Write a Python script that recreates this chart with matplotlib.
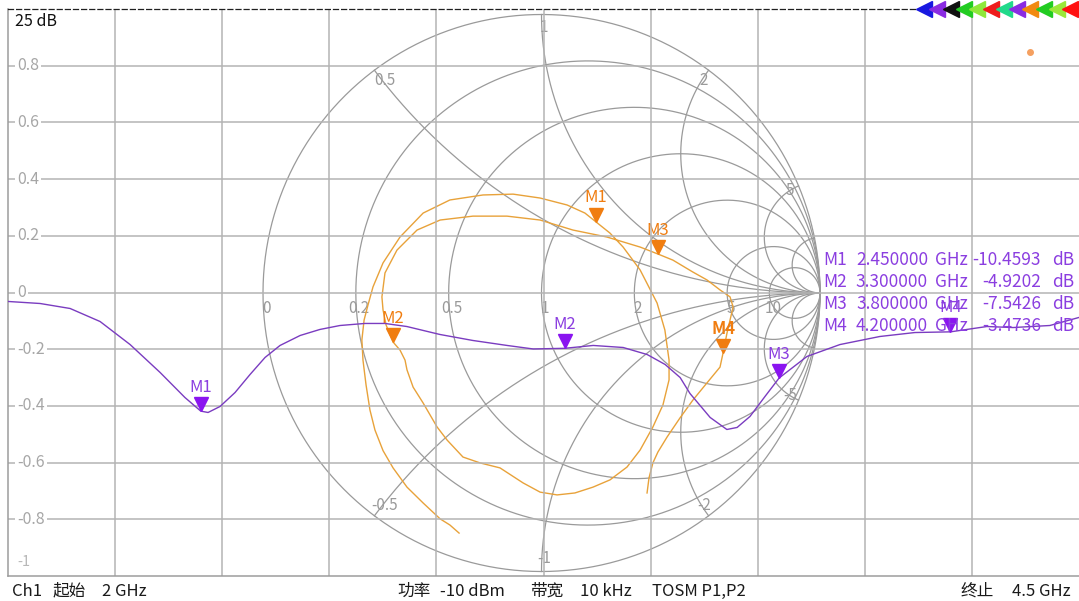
import numpy as np
import matplotlib
matplotlib.use('Agg')
import matplotlib.pyplot as plt
from matplotlib import transforms

plt.rcParams['font.family'] = ['Noto Sans CJK SC', 'DejaVu Sans']

W, H = 1079, 601

# ---------------- data ----------------
# rectangular trace (log magnitude), frequency in GHz, value in dB (25 dB / unit)
freq_ghz = [2.000, 2.075, 2.145, 2.215, 2.285, 2.355, 2.413, 2.450, 2.467, 2.495,
            2.530, 2.565, 2.600, 2.635, 2.682, 2.728, 2.775, 2.833, 2.880, 2.931,
            3.008, 3.085, 3.165, 3.226, 3.300, 3.366, 3.436, 3.492, 3.534, 3.569,
            3.592, 3.639, 3.678, 3.702, 3.732, 3.767, 3.800, 3.865, 3.942, 4.035,
            4.117, 4.200, 4.285, 4.346, 4.432, 4.500]
mag_db = [-0.79, -0.97, -1.41, -2.56, -4.59, -7.05, -9.26, -10.46, -10.58, -10.05,
          -8.82, -7.23, -5.73, -4.67, -3.79, -3.26, -2.91, -2.73, -2.73, -3.00,
          -3.70, -4.23, -4.67, -4.98, -4.92, -4.67, -4.85, -5.47, -6.35, -7.50,
          -8.91, -11.02, -12.08, -11.90, -10.93, -9.17, -7.54, -5.64, -4.59, -3.88,
          -3.53, -3.47, -3.00, -3.09, -2.91, -2.20]

marker_names = ['M1', 'M2', 'M3', 'M4']
marker_freq = [2.45, 3.30, 3.80, 4.20]
marker_db = [-10.4593, -4.9202, -7.5426, -3.4736]

# Smith chart trace (reflection coefficient)
gamma_re = [-0.296, -0.329, -0.364, -0.425, -0.483, -0.533, -0.569, -0.598, -0.616, -0.630,
            -0.641, -0.645, -0.637, -0.623, -0.605, -0.569, -0.508, -0.425, -0.329, -0.210,
            -0.102, -0.005, 0.092, 0.156, 0.196, 0.246, 0.293, 0.354, 0.415, 0.443,
            0.458, 0.458, 0.436, 0.400, 0.354, 0.307, 0.246, 0.185, 0.120, 0.056,
            -0.005, -0.066, -0.149, -0.221, -0.282, -0.339, -0.375, -0.425, -0.461, -0.483,
            -0.490, -0.508, -0.533, -0.558, -0.569, -0.573, -0.562, -0.519, -0.447, -0.364,
            -0.246, -0.124, -0.005, 0.113, 0.235, 0.354, 0.418, 0.472, 0.544, 0.594,
            0.641, 0.677, 0.688, 0.677, 0.666, 0.652, 0.641, 0.594, 0.544, 0.497,
            0.451, 0.418, 0.400, 0.386, 0.379]
gamma_im = [-0.862, -0.833, -0.811, -0.754, -0.697, -0.628, -0.566, -0.492, -0.420, -0.330,
            -0.241, -0.169, -0.097, -0.043, 0.022, 0.108, 0.201, 0.287, 0.334, 0.352,
            0.355, 0.341, 0.316, 0.287, 0.255, 0.215, 0.165, 0.083, -0.036, -0.133,
            -0.241, -0.312, -0.402, -0.481, -0.564, -0.625, -0.671, -0.697, -0.718, -0.725,
            -0.715, -0.682, -0.628, -0.610, -0.589, -0.528, -0.481, -0.395, -0.338, -0.276,
            -0.241, -0.205, -0.176, -0.115, -0.061, -0.014, 0.072, 0.154, 0.226, 0.262,
            0.276, 0.276, 0.262, 0.226, 0.201, 0.165, 0.140, 0.118, 0.075, 0.047,
            0.011, -0.014, -0.050, -0.097, -0.144, -0.215, -0.266, -0.323, -0.384, -0.449,
            -0.517, -0.571, -0.610, -0.664, -0.718]
smith_marker_re = [0.196, -0.533, 0.418, 0.652]
smith_marker_im = [0.255, -0.176, 0.140, -0.215]

y_tick_vals = [0.8, 0.6, 0.4, 0.2, 0.0, -0.2, -0.4, -0.6, -0.8, -1.0]
y_tick_labels = ['0.8', '0.6', '0.4', '0.2', '0', '-0.2', '-0.4', '-0.6', '-0.8', '-1']
db_per_unit = 25

r_circles = [0.2, 0.5, 1, 2, 5, 10]
r_labels = ['0', '0.2', '0.5', '1', '2', '5', '10']
x_arcs = [0.5, 1, 2, 5, 10]
x_labels = ['0.5', '1', '2', '5']

bottom_left = [('Ch1', 12), ('起始', 53), ('2 GHz', 102)]
bottom_mid = [('功率', 397), ('-10 dBm', 440), ('带宽', 530), ('10 kHz', 580), ('TOSM P1,P2', 652)]
bottom_right = [('终止', 960)]
stop_text = '4.5 GHz'

tri_colors = ['#1818e0', '#8a2be2', '#101010', '#22cc22', '#8fe83a', '#ee1c1c',
              '#22d98a', '#8a2be2', '#f28a10', '#22cc22', '#9be83a', '#ff1010']

# ---------------- styles ----------------
PURPLE_LINE = '#7a3cc0'
PURPLE_MK = '#8a14f0'
PURPLE_TXT = '#8b3ee0'
ORANGE_LINE = '#e8a23a'
ORANGE_MK = '#f07d10'
GRID = '#b4b4b4'
SGRID = '#9a9a9a'


def fx(px):
    return px / W


def fy(py):
    return 1 - py / H


fig = plt.figure(figsize=(W / 100, H / 100), dpi=100, facecolor='white')

# Smith chart axes (square, under the rectangular plot)
cx, cy, R = 541.5, 293.0, 278.5
ax_s = fig.add_axes([fx(cx - R), fy(cy + R), 2 * R / W, 2 * R / H], zorder=1)
ax_s.set_xlim(-1, 1)
ax_s.set_ylim(-1, 1)
ax_s.axis('off')
ax_s.patch.set_alpha(0)

t = np.linspace(-np.pi / 2 * 0.9995, np.pi / 2 * 0.9995, 800)
# outer circle
z = 0 + 1j * np.tan(t)
g = (z - 1) / (z + 1)
ax_s.plot(g.real, g.imag, color=SGRID, lw=0.9, clip_on=False)
for r in r_circles:
    z = r + 1j * np.tan(t)
    g = (z - 1) / (z + 1)
    ax_s.plot(g.real, g.imag, color=SGRID, lw=0.9, clip_on=False)
tr = np.linspace(0, np.pi / 2 * 0.9995, 600)
for xv in x_arcs:
    for s in (1, -1):
        z = np.tan(tr) + 1j * s * xv
        g = (z - 1) / (z + 1)
        ax_s.plot(g.real, g.imag, color=SGRID, lw=0.9, clip_on=False)

# resistance labels
for val, lab in zip([0] + r_circles, r_labels):
    gx = (val - 1) / (val + 1)
    ax_s.text(gx + 0.012, -0.055, lab, ha='center', va='center', color='#9a9a9a',
              fontsize=11)
# reactance labels
for xv, lab in zip(x_arcs[:4], x_labels):
    for s in (1, -1):
        ex = (xv ** 2 - 1) / (xv ** 2 + 1)
        ey = s * 2 * xv / (xv ** 2 + 1)
        f = 0.955
        ax_s.text(ex * f + 0.01, ey * f, lab if s > 0 else '-' + lab, ha='center',
                  va='center', color='#9a9a9a', fontsize=11)

# orange Smith trace
ax_s.plot(gamma_re, gamma_im, color=ORANGE_LINE, lw=1.0, zorder=3)
mk_off_s = transforms.offset_copy(ax_s.transData, fig=fig, x=0, y=7, units='dots')
lb_off_s = transforms.offset_copy(ax_s.transData, fig=fig, x=0, y=24, units='dots')
for name, gx, gy in zip(marker_names, smith_marker_re, smith_marker_im):
    ax_s.plot(gx, gy, marker='v', ms=10, color=ORANGE_MK, mec=ORANGE_MK,
              transform=mk_off_s, zorder=4)
    ax_s.text(gx, gy, name, transform=lb_off_s, ha='center', va='center',
              color=ORANGE_MK, fontsize=12,
              fontweight='bold' if name == 'M4' else 'normal', zorder=4)

# Rectangular axes on top
ax = fig.add_axes([fx(8), fy(576), 1071 / W, 567 / H], zorder=2)
ax.patch.set_alpha(0)
ax.set_xlim(2.0, 4.5)
ax.set_ylim(-db_per_unit, db_per_unit)
ax.set_xticks(np.arange(2.25, 4.5, 0.25))
ax.set_yticks([v * db_per_unit for v in y_tick_vals[:-1]])
ax.tick_params(length=0, labelbottom=False, labelleft=False)
ax.grid(True, color=GRID, lw=1.1)
for sp in ('left', 'bottom'):
    ax.spines[sp].set_color('#9c9c9c')
    ax.spines[sp].set_linewidth(1.1)
ax.spines['right'].set_visible(False)
ax.spines['top'].set_color('#202020')
ax.spines['top'].set_linewidth(0.9)
ax.spines['top'].set_linestyle((0, (4, 2.5)))

blend = transforms.blended_transform_factory(ax.transAxes, ax.transData)
for v, lab in zip(y_tick_vals, y_tick_labels):
    if v == -1.0:
        ax.text(9 / 1071, v * db_per_unit + 0.6, lab, transform=blend, ha='left',
                va='bottom', color='#b8b8b8', fontsize=10.5)
    else:
        ax.text(9 / 1071, v * db_per_unit, lab, transform=blend, ha='left',
                va='center', color='#a6a6a6', fontsize=11.5,
                bbox=dict(facecolor='white', edgecolor='none', pad=1.5))

ax.plot(freq_ghz, mag_db, color=PURPLE_LINE, lw=1.0, zorder=3)
mk_off = transforms.offset_copy(ax.transData, fig=fig, x=0, y=7, units='dots')
lb_off = transforms.offset_copy(ax.transData, fig=fig, x=0, y=24, units='dots')
for name, f, d in zip(marker_names, marker_freq, marker_db):
    ax.plot(f, d, marker='v', ms=10, color=PURPLE_MK, mec=PURPLE_MK,
            transform=mk_off, zorder=4)
    ax.text(f, d, name, transform=lb_off, ha='center', va='center',
            color=PURPLE_TXT, fontsize=12, zorder=4)

# scale label
fig.text(fx(15), fy(22), '25 dB', ha='left', va='center', fontsize=11.5, color='#111111')

# marker table
rows_y = [260, 282, 304, 326]
for name, f, d, yy in zip(marker_names, marker_freq, marker_db, rows_y):
    fig.text(fx(823), fy(yy), name, ha='left', va='center', color=PURPLE_TXT,
             fontsize=12.5, zorder=5)
    fig.text(fx(928), fy(yy), f'{f:.6f}', ha='right', va='center', color=PURPLE_TXT,
             fontsize=12.5, zorder=5)
    fig.text(fx(935), fy(yy), 'GHz', ha='left', va='center', color=PURPLE_TXT,
             fontsize=12.5, zorder=5)
    fig.text(fx(1041), fy(yy), f'{d:.4f}', ha='right', va='center', color=PURPLE_TXT,
             fontsize=12.5, zorder=5)
    fig.text(fx(1052), fy(yy), 'dB', ha='left', va='center', color=PURPLE_TXT,
             fontsize=12.5, zorder=5)

# trace selector triangles at top right
tri_ax = fig.add_axes([0, 0, 1, 1], zorder=6)
tri_ax.set_xlim(0, W)
tri_ax.set_ylim(H, 0)
tri_ax.axis('off')
tri_ax.patch.set_alpha(0)
for i, c in enumerate(tri_colors):
    tri_ax.plot(924 + i * 13.3, 9, marker='<', ms=11, color=c, mec=c, clip_on=False)
tri_ax.plot(1030, 52, marker='o', ms=4, color='#f5a060', mec='#f5a060')

# bottom status bar
for txt, px in bottom_left + bottom_mid + bottom_right:
    fig.text(fx(px), fy(591), txt, ha='left', va='center', fontsize=12, color='#1a1a1a')
fig.text(fx(1071), fy(591), stop_text, ha='right', va='center', fontsize=12, color='#1a1a1a')

fig.savefig('out.png', dpi=100, facecolor='white')
